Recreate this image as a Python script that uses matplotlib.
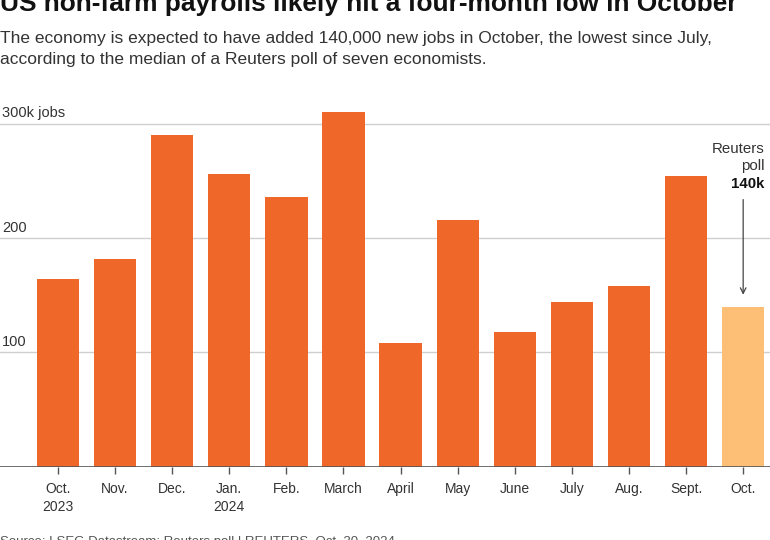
import matplotlib
matplotlib.use("Agg")
import matplotlib.pyplot as plt
import numpy as np

plt.rcParams['font.family'] = ['Liberation Sans', 'DejaVu Sans']

months = ['Oct.\n2023', 'Nov.', 'Dec.', 'Jan.\n2024', 'Feb.', 'March', 'April',
          'May', 'June', 'July', 'Aug.', 'Sept.', 'Oct.']
jobs = [164, 182, 290, 256, 236, 310, 108, 216, 118, 144, 158, 254, 140]
is_forecast = [False] * 12 + [True]
yticks = [100, 200, 300]
ytick_labels = ['100', '200', '300k jobs']

ORANGE = '#F0672A'
LIGHT = '#FDBF75'

fig = plt.figure(figsize=(7.7, 5.4), dpi=100)
ax = fig.add_axes([0, 0.1352, 1, 0.6785])

x = np.arange(len(months))
colors = [LIGHT if f else ORANGE for f in is_forecast]
ax.bar(x, jobs, width=0.74, color=colors, zorder=2)

ax.set_xlim(-1.016, 12.47)
ax.set_ylim(0, 320)

# gridlines + labels sitting above them
for v, lab in zip(yticks, ytick_labels):
    ax.axhline(v, color='#cfcfcf', lw=1, zorder=1)
    ax.text(0.003, v + 3, lab, transform=ax.get_yaxis_transform(),
            ha='left', va='bottom', fontsize=10.5, color='#333333')
ax.axhline(0, color='#555555', lw=1.2, zorder=3)

for s in ax.spines.values():
    s.set_visible(False)
ax.set_yticks([])
ax.set_xticks(x)
ax.set_xticklabels(months, fontsize=10, color='#333333', linespacing=1.35)
ax.tick_params(axis='x', length=5, width=1, color='#555555', pad=6)

# annotation for the poll bar
last = len(jobs) - 1
ax.text(12.38, 274, 'Reuters', ha='right', va='baseline', fontsize=10.8, color='#333333')
ax.text(12.38, 259, 'poll', ha='right', va='baseline', fontsize=10.8, color='#333333')
ax.text(12.38, 244, '140k', ha='right', va='baseline', fontsize=10.8,
        fontweight='bold', color='#111111')
ax.annotate('', xy=(last, jobs[last] + 8), xytext=(last, 236),
            arrowprops=dict(arrowstyle='->', color='#444444', lw=0.9))

fig.text(0.0, 1 - 11 / 540, 'US non-farm payrolls likely hit a four-month low in October',
         ha='left', va='baseline', fontsize=18.9, fontweight='bold', color='#111111')
fig.text(0.0, 1 - 43 / 540,
         'The economy is expected to have added 140,000 new jobs in October, the lowest since July,',
         ha='left', va='baseline', fontsize=12.5, color='#333333')
fig.text(0.0, 1 - 64 / 540,
         'according to the median of a Reuters poll of seven economists.',
         ha='left', va='baseline', fontsize=12.5, color='#333333')
fig.text(0.0, 1 - 545 / 540, 'Source: LSEG Datastream; Reuters poll | REUTERS, Oct. 30, 2024',
         ha='left', va='baseline', fontsize=9.5, color='#555555')

fig.savefig('out.png', dpi=100)
